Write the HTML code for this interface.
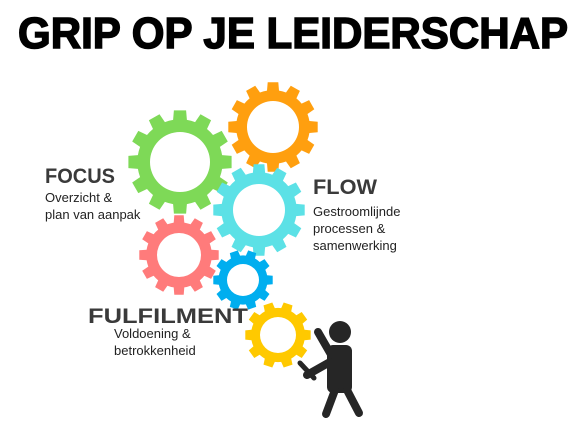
<!DOCTYPE html>
<html><head><meta charset="utf-8"><style>
body{margin:0;background:#fff;width:587px;height:436px;overflow:hidden}
svg{display:block}
.h{font-family:"Liberation Sans",sans-serif;font-weight:900;fill:#3a3a3a}
.t{font-family:"Liberation Sans",sans-serif;font-size:13px;fill:#222}
</style></head><body>
<svg id="s" width="587" height="436" viewBox="0 0 587 436">
<text x="18" y="48" textLength="550" lengthAdjust="spacingAndGlyphs" font-family="Liberation Sans, sans-serif" font-weight="900" font-size="44" fill="#000" stroke="#000" stroke-width="1.5">GRIP OP JE LEIDERSCHAP</text>
<g id="gears"></g>
<g fill="#262626" stroke="#262626" stroke-linecap="round">
<circle cx="340" cy="332" r="11" stroke="none"/>
<rect x="327" y="345" width="25" height="48" rx="6" stroke="none"/>
<line x1="318" y1="332" x2="333" y2="358" stroke-width="8"/>
<line x1="330" y1="362" x2="307" y2="375" stroke-width="8"/>
<line x1="335" y1="390" x2="326" y2="414" stroke-width="8"/>
<line x1="347" y1="390" x2="359" y2="413" stroke-width="8"/>
<line x1="300" y1="363" x2="314" y2="378" stroke-width="5"/>
</g>
<text class="h" x="45" y="183" font-size="21" textLength="70" lengthAdjust="spacingAndGlyphs">FOCUS</text>
<text class="t" x="45" y="202">Overzicht &amp;</text>
<text class="t" x="45" y="219">plan van aanpak</text>
<text class="h" x="313" y="194" font-size="21" textLength="64" lengthAdjust="spacingAndGlyphs">FLOW</text>
<text class="t" x="313" y="216">Gestroomlijnde</text>
<text class="t" x="313" y="233">processen &amp;</text>
<text class="t" x="313" y="250">samenwerking</text>
<text class="h" x="88" y="323" font-size="21" textLength="160" lengthAdjust="spacingAndGlyphs">FULFILMENT</text>
<text class="t" x="114" y="338">Voldoening &amp;</text>
<text class="t" x="114" y="355">betrokkenheid</text>
</svg>
<script>
const gearNames=['gear-green','gear-orange','gear-cyan','gear-pink','gear-blue','gear-yellow'];
const gearX=[180,273,259,179,243,278];
const gearY=[162,127,210,255,280,335];
const gearR=[52,45,46,40,30,33];
const gearIn=[30,26,26,22,16,18];
const gearTeeth=[12,12,12,12,10,10];
const gearColor=['#7ed957','#ff9f0f','#5ce1e6','#ff7b7b','#00aeef','#ffc900'];
const g=document.getElementById('gears');
const order=[3,0,1,2,4,5];
order.forEach(i=>{
 const R=gearR[i],r=R*0.82,n=gearTeeth[i],cx=gearX[i],cy=gearY[i];
 let d='';
 for(let k=0;k<n;k++){
  const a=k*2*Math.PI/n,w=Math.PI/n;
  const pts=[[r,a-w*0.62],[R,a-w*0.45],[R,a+w*0.45],[r,a+w*0.62]];
  pts.forEach((p,j)=>{d+=(k==0&&j==0?'M':'L')+(cx+p[0]*Math.cos(p[1])).toFixed(1)+','+(cy+p[0]*Math.sin(p[1])).toFixed(1);});
  const a2=a+w*1.38;
  d+='A'+r+','+r+' 0 0 1 '+(cx+r*Math.cos(a2)).toFixed(1)+','+(cy+r*Math.sin(a2)).toFixed(1);
 }
 d+='Z';
 const ri=gearIn[i];
 d+='M'+(cx+ri)+','+cy+'A'+ri+','+ri+' 0 1 0 '+(cx-ri)+','+cy+'A'+ri+','+ri+' 0 1 0 '+(cx+ri)+','+cy+'Z';
 const p=document.createElementNS('http://www.w3.org/2000/svg','path');
 p.setAttribute('d',d);p.setAttribute('fill',gearColor[i]);p.setAttribute('fill-rule','evenodd');
 
 
 g.appendChild(p);
});
</script>
</body></html>
